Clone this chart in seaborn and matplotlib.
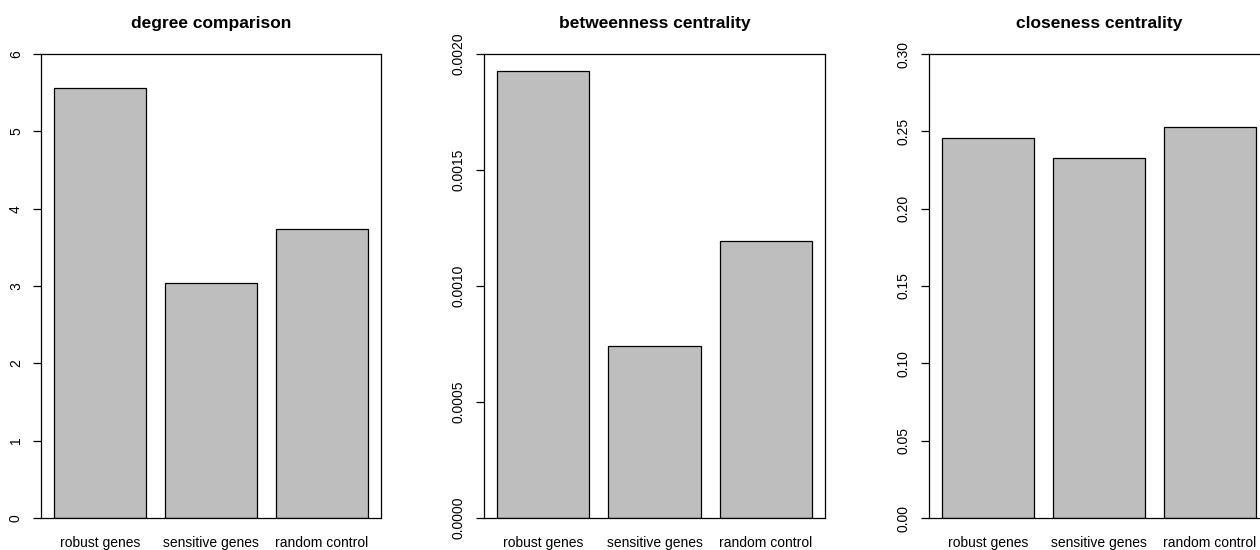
import matplotlib
matplotlib.use("Agg")
import matplotlib.pyplot as plt
import seaborn as sns
import pandas as pd

categories = ["robust genes", "sensitive genes", "random control"]
degree_vals = [5.56, 3.04, 3.74]
betweenness_vals = [0.001927, 0.000741, 0.001194]
closeness_vals = [0.2457, 0.2325, 0.2528]

titles = ["degree comparison", "betweenness centrality", "closeness centrality"]
yticks_list = [
    [0, 1, 2, 3, 4, 5, 6],
    [0.0, 0.0005, 0.0010, 0.0015, 0.0020],
    [0.0, 0.05, 0.10, 0.15, 0.20, 0.25, 0.30],
]
ytick_labels_list = [
    ["0", "1", "2", "3", "4", "5", "6"],
    ["0.0000", "0.0005", "0.0010", "0.0015", "0.0020"],
    ["0.00", "0.05", "0.10", "0.15", "0.20", "0.25", "0.30"],
]
ylims = [(0, 6), (0, 0.002), (0, 0.30)]
series = [degree_vals, betweenness_vals, closeness_vals]

sns.set_style("white")
plt.rcParams["font.family"] = ["Liberation Sans", "DejaVu Sans"]
plt.rcParams["text.color"] = "black"
plt.rcParams["axes.labelcolor"] = "black"
plt.rcParams["xtick.color"] = "black"
plt.rcParams["ytick.color"] = "black"

W, H = 1260, 550
fig = plt.figure(figsize=(W / 100, H / 100), dpi=100)

# pixel layout: (left, width)
layouts = [(41, 340), (484, 341), (929, 340)]
top_px, bottom_px = 54, 518

for (left, width), vals, title, yt, ytl, yl in zip(
    layouts, series, titles, yticks_list, ytick_labels_list, ylims
):
    ax = fig.add_axes([left / W, 1 - bottom_px / H, width / W, (bottom_px - top_px) / H])
    df = pd.DataFrame({"category": categories, "value": vals})
    sns.barplot(
        data=df, x="category", y="value", ax=ax,
        color="#bebebe", saturation=1, edgecolor="black", linewidth=0.9,
        width=1 / 1.2, errorbar=None,
    )
    ax.set_xlim(-0.53, 2.53)
    ax.set_ylim(*yl)
    ax.set_yticks(yt)
    ax.set_yticklabels(ytl, rotation=90, va="center", fontsize=10)
    ax.tick_params(axis="y", direction="out", length=6, width=0.9, pad=7, left=True, colors="black")
    ax.tick_params(axis="x", length=0, pad=13, labelsize=10, colors="black")
    ax.set_xlabel("")
    ax.set_ylabel("")
    for s in ax.spines.values():
        s.set_visible(True)
        s.set_color("black")
        s.set_linewidth(0.9)
    ax.set_title(title, fontsize=12.5, fontweight="bold", pad=19, color="black")

fig.savefig("out.png", dpi=100)
